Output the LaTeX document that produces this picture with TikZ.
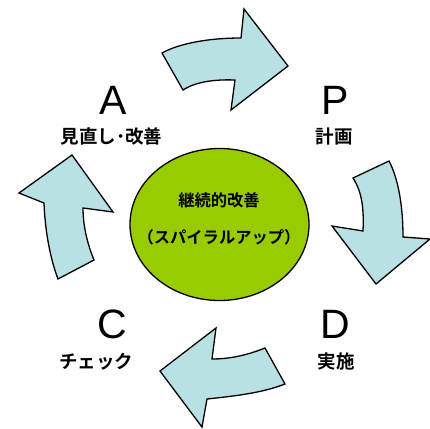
\documentclass[tikz,border=0pt]{standalone}
\usepackage{fontspec}
\usetikzlibrary{shapes.geometric}
\setmainfont{Liberation Sans}
\newfontfamily\jpfont{Noto Sans CJK JP Bold}
\definecolor{arrowfill}{HTML}{B9E0E3}
\definecolor{circfill}{HTML}{99CC00}
\begin{document}
\begin{tikzpicture}[x=1pt,y=-1pt,
  bigarrow/.style={draw=black,fill=arrowfill,line width=1.3pt,line join=miter},
  letter/.style={font=\fontsize{41}{41}\selectfont,inner sep=0pt},
  jlabel/.style={font=\jpfont\fontsize{18.5}{20}\selectfont,inner sep=0pt},
  ctext/.style={font=\jpfont\fontsize{16.3}{18}\selectfont,inner sep=0pt}]
\useasboundingbox[fill=white] (0,0) rectangle (430,428);

% top arrow (A -> P)
\draw[bigarrow] (162,53) .. controls (180,43) and (210,38) .. (241,38)
  -- (244,9) -- (288,66) -- (231,110) -- (235,80)
  .. controls (208,79) and (192,84) .. (183,90) -- cycle;
% right arrow (P -> D)
\draw[bigarrow] (353,178) -- (389,161)
  .. controls (398,178) and (403,205) .. (403,237)
  -- (430,239) -- (376,284) -- (332,226) -- (363,231)
  .. controls (364,208) and (362,192) .. cycle;
% bottom arrow (D -> C)
\draw[bigarrow] (265,348) -- (285,384)
  .. controls (262,393) and (235,396) .. (207,399)
  -- (202,427) -- (160,371) -- (216,328) -- (212,359)
  .. controls (228,359) and (245,356) .. cycle;
% left arrow (C -> A)
\draw[bigarrow] (58,279) -- (94,260)
  .. controls (87,243) and (83,225) .. (83,208)
  -- (113,212) -- (72,155) -- (19,193) -- (44,203)
  .. controls (45,230) and (50,258) .. cycle;

% centre circle
\node[draw=black,fill=circfill,line width=1.3pt,ellipse,minimum width=179pt,minimum height=152pt,inner sep=0pt] (core) at (219.5,224.5) {};
\node[ctext] (t1) at (219,200) {継続的改善};
\node[ctext] (t2) at (219,237) {（スパイラルアップ）};

% labels
\node[letter] (A) at (113,100) {A};
\node[jlabel] (Al) at (111.5,136) {見直し･改善};
\node[letter] (P) at (335,100) {P};
\node[jlabel] (Pl) at (334,137) {計画};
\node[letter] (C) at (112.5,324) {C};
\node[jlabel] (Cl) at (96,362) {チェック};
\node[letter] (D) at (335,324) {D};
\node[jlabel] (Dl) at (336,361) {実施};
\end{tikzpicture}
\end{document}
